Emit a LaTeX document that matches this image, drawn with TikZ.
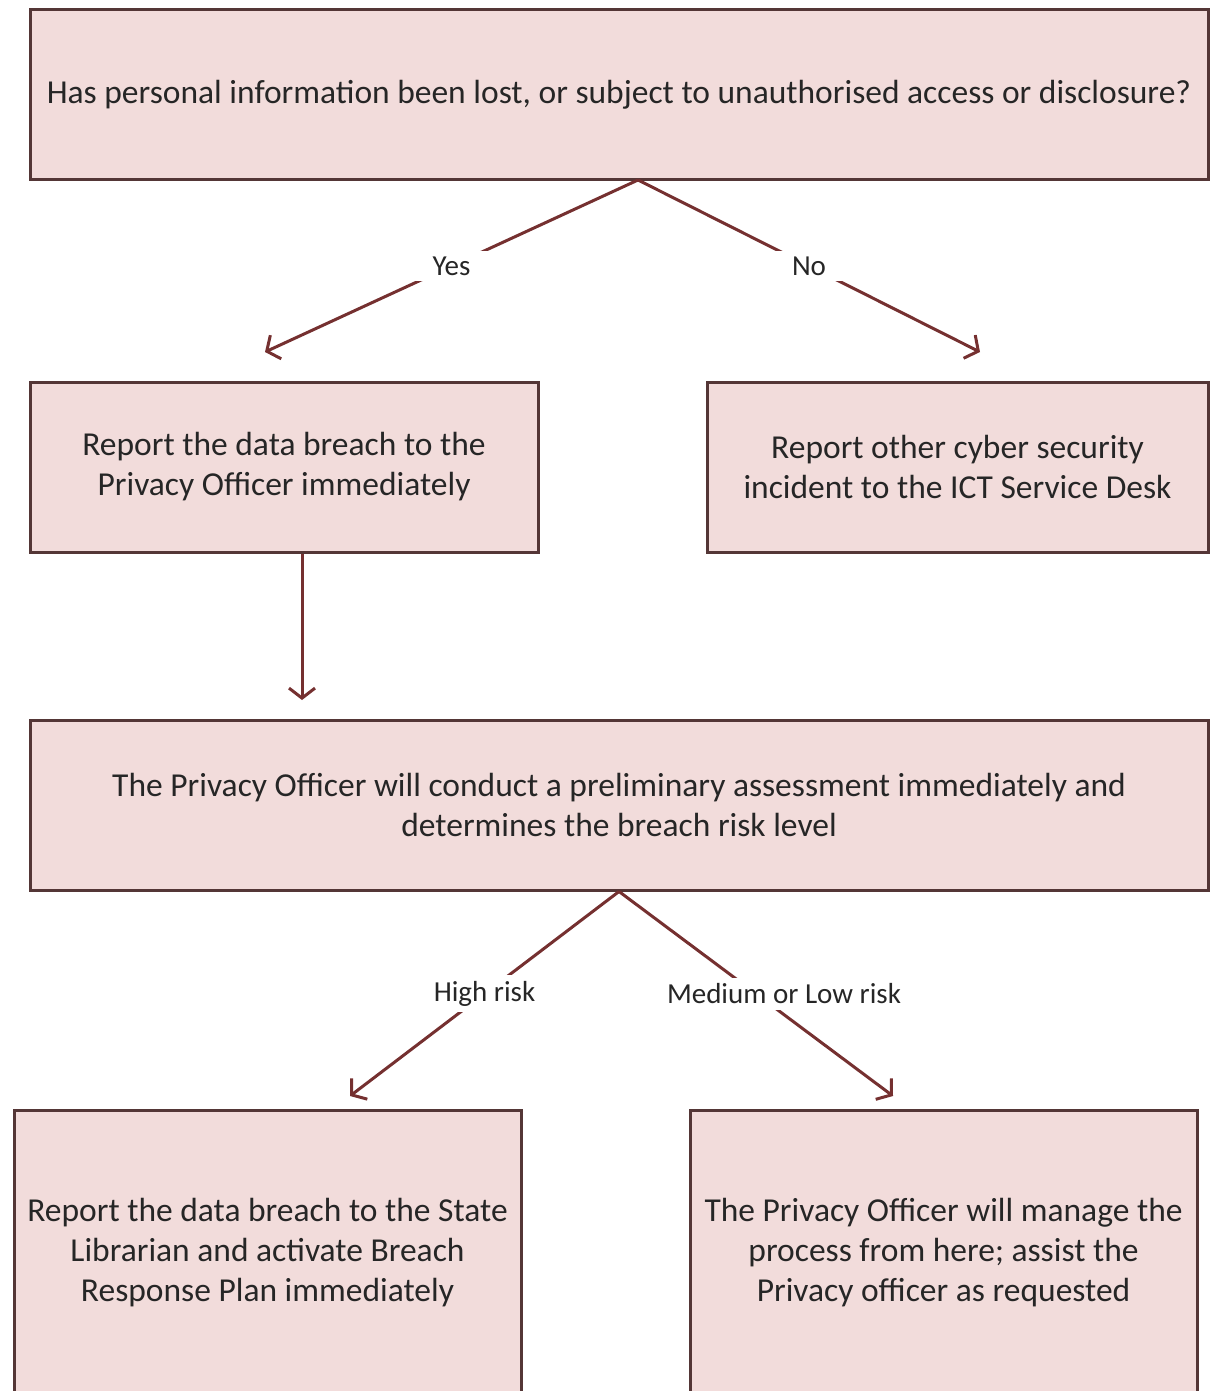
\documentclass[tikz,border=0pt]{standalone}
\usepackage{fontspec}
\setmainfont{Carlito}
\usetikzlibrary{arrows.meta}

\definecolor{boxfill}{HTML}{F2DCDB}
\definecolor{boxline}{HTML}{543636}
\definecolor{flowline}{HTML}{753030}
\definecolor{textcol}{HTML}{262626}

\begin{document}
\begin{tikzpicture}[x=1pt,y=-1pt]
		\tikzstyle{every node}=[font=\fontsize{33.5pt}{40pt}\selectfont, text=textcol]
		\tikzstyle{stepbox}=[draw=boxline, fill=boxfill, line width=3pt, inner sep=0pt, align=center]
		\tikzstyle{flow}=[draw=flowline, line width=3pt, -{Straight Barb[length=10pt,width=26pt]}]
		\tikzstyle{answer}=[fill=white, inner sep=6pt, font=\fontsize{29pt}{32pt}\selectfont]
		
		\useasboundingbox (0,0) rectangle (1210,1391);
		\clip (0,0) rectangle (1210,1391);
		
		\node [stepbox, minimum width=1178pt, minimum height=170pt] (lost) at (619,95) {Has personal information been lost, or subject to unauthorised access or disclosure?};
		
		\node [stepbox, minimum width=508pt, minimum height=170pt] (report) at (284,467) {Report the data breach to the\\Privacy Officer immediately};
		\node [stepbox, minimum width=501pt, minimum height=170pt] (other) at (957.5,467) {Report other cyber security\\incident to the ICT Service Desk};
		
		\node [stepbox, minimum width=1178pt, minimum height=170pt] (assess) at (619,805) {The Privacy Officer will conduct a preliminary assessment immediately and\\determines the breach risk level};
		
		\node [stepbox, minimum width=507pt, minimum height=286pt] (high) at (267.5,1253) {Report the data breach to the State\\Librarian and activate Breach\\Response Plan immediately};
		\node [stepbox, minimum width=507pt, minimum height=286pt] (low) at (943.5,1253) {The Privacy Officer will manage the\\process from here; assist the\\Privacy officer as requested};
		
		\coordinate (lostfork) at (638,180);
		\coordinate (yesend) at (265,352);
		\coordinate (noend) at (980,352);
		\coordinate (reportend) at (302,700);
		\coordinate (highend) at (350,1096);
		\coordinate (lowend) at (893,1096);
		
		\draw [flow] (lostfork) -- node [answer, inner xsep=18pt] {Yes} (yesend);
		\draw [flow] (lostfork) -- node [answer, inner xsep=18pt] {No} (noend);
		
		\draw [flow] (report.south -| reportend) -- (reportend);
		
		\draw [flow] (assess.south) -- node [answer] {High risk} (highend);
		\draw [flow] (assess.south) -- node [answer, xshift=28pt] {Medium or Low risk} (lowend);
		
	\end{tikzpicture}
\end{document}
